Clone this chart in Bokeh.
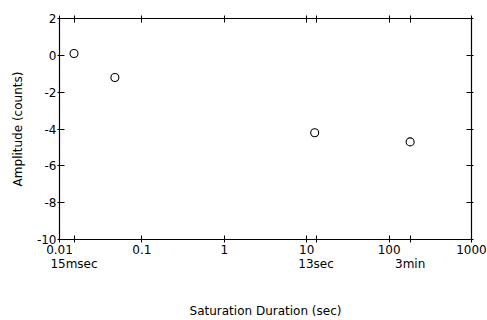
from bokeh.plotting import figure
from bokeh.models import LogAxis, LinearAxis, FixedTicker, Range1d, CustomJSTickFormatter
from bokeh.embed import file_html
from bokeh.resources import INLINE

# Saturation durations (sec) and measured amplitudes (counts)
durations = [0.015, 0.047, 12.5, 180.0]
amplitudes = [0.1, -1.2, -4.2, -4.7]

# Axis ticks
x_decades = [0.01, 0.1, 1, 10, 100, 1000]
x_decade_labels = ["0.01", "0.1", "1", "10", "100", "1000"]
x_marked = [0.015, 13, 180]
x_marked_labels = ["15msec", "13sec", "3min"]
y_ticks = [-10, -8, -6, -4, -2, 0, 2]
y_tick_labels = ["-10", "-8", "-6", "-4", "-2", "0", "2"]

FONT = "DejaVu Sans"
FS = "12px"

p = figure(width=487, height=320, x_axis_type="log",
           x_axis_location=None, y_axis_location=None,
           x_range=Range1d(0.01, 1000), y_range=Range1d(-10, 2),
           output_backend="svg", toolbar_location=None,
           min_border_left=59, min_border_right=16,
           min_border_top=18, min_border_bottom=80)
p.xgrid.visible = False
p.ygrid.visible = False
p.outline_line_color = None
p.background_fill_color = "white"
p.border_fill_color = "white"

blank = CustomJSTickFormatter(code="return ''")


def style_ticks(ax):
    ax.axis_line_color = "black"
    ax.axis_line_width = 1.2
    ax.major_tick_line_color = "black"
    ax.minor_tick_line_color = "black"
    ax.major_tick_in = 4
    ax.major_tick_out = 3
    ax.minor_tick_in = 4
    ax.minor_tick_out = 3
    ax.major_label_text_font = FONT
    ax.major_label_text_font_size = FS
    ax.major_label_text_color = "black"
    ax.axis_label_text_font = FONT
    ax.axis_label_text_font_size = FS
    ax.axis_label_text_font_style = "normal"
    ax.axis_label_text_color = "black"


x_ticker = FixedTicker(ticks=x_decades, minor_ticks=x_marked)

bottom = LogAxis(ticker=x_ticker)
style_ticks(bottom)
bottom.major_label_overrides = dict(zip(x_decades, x_decade_labels))
bottom.major_label_standoff = 2
p.add_layout(bottom, "below")

# second row of labels for the marked durations
marks = LogAxis(ticker=FixedTicker(ticks=x_marked))
style_ticks(marks)
marks.axis_line_color = None
marks.major_tick_line_color = None
marks.minor_tick_line_color = None
marks.major_tick_in = 0
marks.major_tick_out = 0
marks.minor_tick_in = 0
marks.minor_tick_out = 0
marks.major_label_standoff = 0
marks.major_label_overrides = dict(zip(x_marked, x_marked_labels))
marks.axis_label = "Saturation Duration (sec)"
marks.axis_label_standoff = 30
p.add_layout(marks, "below")

top = LogAxis(ticker=x_ticker, formatter=blank)
style_ticks(top)
top.major_label_standoff = 0
p.add_layout(top, "above")

left = LinearAxis(ticker=FixedTicker(ticks=y_ticks))
style_ticks(left)
left.major_tick_in = 5
left.major_tick_out = 2
left.major_label_standoff = 1
left.major_label_overrides = dict(zip(y_ticks, y_tick_labels))
left.axis_label = "Amplitude (counts)"
left.axis_label_standoff = 9
p.add_layout(left, "left")

right = LinearAxis(ticker=FixedTicker(ticks=y_ticks), formatter=blank)
style_ticks(right)
right.major_tick_in = 5
right.major_tick_out = 2
right.major_label_standoff = 0
p.add_layout(right, "right")

p.scatter(durations, amplitudes, marker="circle", size=8,
          fill_color="white", line_color="black", line_width=1.1)

open("out.html", "w").write(file_html(p, INLINE))
